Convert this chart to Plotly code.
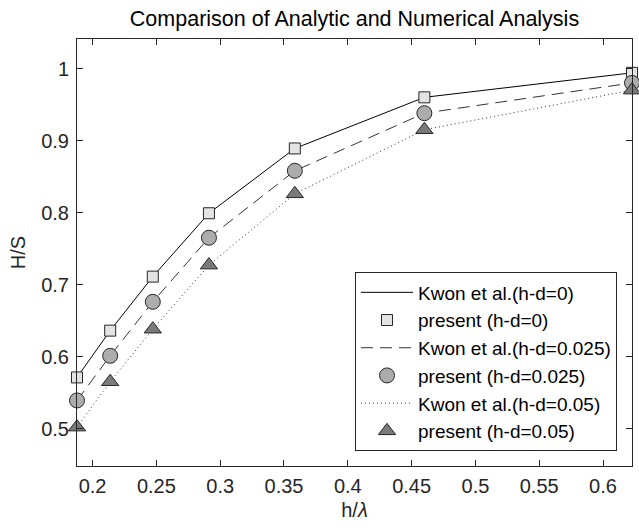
import plotly.graph_objects as go

h_lambda = [0.1878, 0.2138, 0.2472, 0.2912, 0.3585, 0.4600, 0.6227]
hs_kwon_0 = [0.571, 0.636, 0.711, 0.799, 0.889, 0.960, 0.994]
hs_present_0 = [0.571, 0.636, 0.711, 0.799, 0.889, 0.960, 0.994]
hs_kwon_025 = [0.539, 0.601, 0.676, 0.765, 0.858, 0.938, 0.980]
hs_present_025 = [0.539, 0.601, 0.676, 0.765, 0.858, 0.938, 0.980]
hs_kwon_05 = [0.502, 0.565, 0.638, 0.727, 0.826, 0.915, 0.970]
hs_present_05 = [0.502, 0.565, 0.638, 0.727, 0.826, 0.915, 0.970]

x_ticks = [0.2, 0.25, 0.3, 0.35, 0.4, 0.45, 0.5, 0.55, 0.6]
x_tick_labels = ["0.2", "0.25", "0.3", "0.35", "0.4", "0.45", "0.5", "0.55", "0.6"]
y_ticks = [0.5, 0.6, 0.7, 0.8, 0.9, 1.0]
y_tick_labels = ["0.5", "0.6", "0.7", "0.8", "0.9", "1"]

FONT = "Liberation Sans, Arial, Helvetica, sans-serif"
AX = "#262626"

fig = go.Figure()

fig.add_trace(go.Scatter(x=h_lambda, y=hs_kwon_0, mode="lines", name="Kwon et al.(h-d=0)",
                         line=dict(color="black", width=1), legendgroup="a"))
fig.add_trace(go.Scatter(x=h_lambda, y=hs_present_0, mode="markers", name="present (h-d=0)",
                         marker=dict(symbol="square", size=11, color="#e3e3e3",
                                     line=dict(color="#262626", width=1)),
                         cliponaxis=False, legendgroup="b"))
fig.add_trace(go.Scatter(x=h_lambda, y=hs_kwon_025, mode="lines", name="Kwon et al.(h-d=0.025)",
                         line=dict(color="#333333", width=1, dash="12px,7px"), legendgroup="c"))
fig.add_trace(go.Scatter(x=h_lambda, y=hs_present_025, mode="markers", name="present (h-d=0.025)",
                         marker=dict(symbol="circle", size=15, color="#acacac",
                                     line=dict(color="#262626", width=1)),
                         cliponaxis=False, legendgroup="d"))
fig.add_trace(go.Scatter(x=h_lambda, y=hs_kwon_05, mode="lines", name="Kwon et al.(h-d=0.05)",
                         line=dict(color="#333333", width=1, dash="1px,3px"), legendgroup="e"))
fig.add_trace(go.Scatter(x=h_lambda, y=hs_present_05, mode="markers", name="present (h-d=0.05)",
                         marker=dict(symbol="triangle-up", size=15, color="#7a7a7a",
                                     line=dict(color="#262626", width=1)),
                         cliponaxis=False, legendgroup="f"))

axis_common = dict(showline=True, linecolor=AX, linewidth=1, mirror="ticks",
                   ticks="inside", ticklen=6, tickcolor=AX, showgrid=False, zeroline=False,
                   tickfont=dict(family=FONT, size=20, color=AX))

fig.update_layout(
    width=639, height=528,
    margin=dict(l=77, r=7, t=39, b=62),
    paper_bgcolor="white", plot_bgcolor="white",
    title=dict(text="Comparison of Analytic and Numerical Analysis", x=0.5, xref="paper",
               y=1 - 18 / 528, yref="container", yanchor="middle",
               font=dict(family=FONT, size=21.5, color="black")),
    xaxis=dict(range=[0.1878, 0.6227], tickvals=x_ticks, ticktext=x_tick_labels,
               ticklabelstandoff=2,
               title=dict(text="h/<i>λ</i>", font=dict(family=FONT, size=20, color=AX), standoff=6),
               **axis_common),
    yaxis=dict(range=[0.448, 1.041], tickvals=y_ticks, ticktext=y_tick_labels,
               ticklabelstandoff=3,
               title=dict(text="H/S", font=dict(family=FONT, size=20, color=AX), standoff=10),
               **axis_common),
    legend=dict(x=0.973, y=0.034, xanchor="right", yanchor="bottom",
                bgcolor="white", bordercolor=AX, borderwidth=1,
                font=dict(family=FONT, size=19, color="black"),
                tracegroupgap=0, itemwidth=52),
    showlegend=True,
)

fig.write_html("out.html")
